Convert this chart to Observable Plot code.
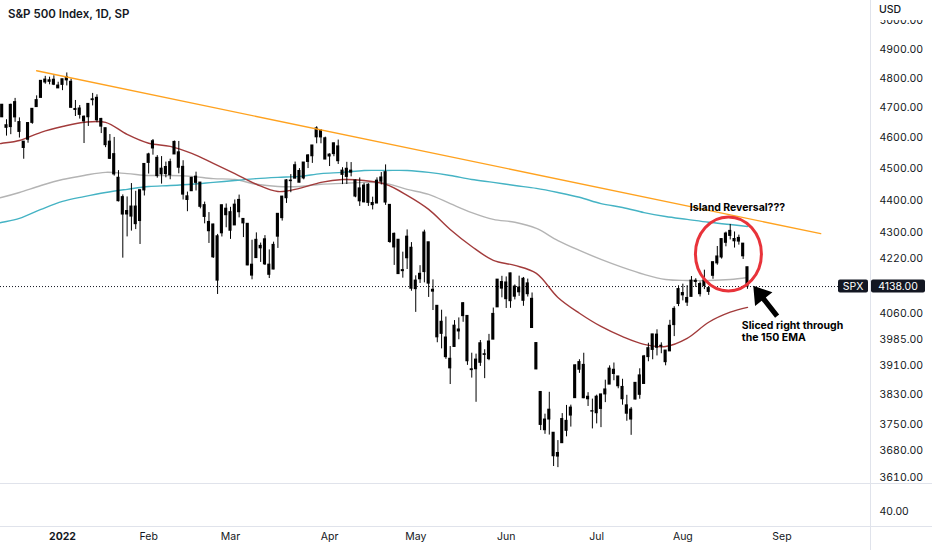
<!DOCTYPE html>
<html>
<head>
<meta charset="utf-8">
<script src="https://cdn.jsdelivr.net/npm/d3@7"></script>
<script src="https://cdn.jsdelivr.net/npm/@observablehq/plot@0.6"></script>
<style>
  html, body { margin: 0; padding: 0; background: #fff; }
  #wrap { position: relative; width: 932px; height: 550px; overflow: hidden; font-family: Inter, Roboto, sans-serif; }
  #wrap svg { position: absolute; left: 0; top: 0; }
  #title { position: absolute; left: 8px; top: 9px; font-size: 11.5px; font-weight: 600; color: #131722; z-index: 2; line-height: 1; white-space: nowrap; }
  #usd { position: absolute; left: 871px; top: 0; width: 61px; height: 20px; background: #fff; z-index: 2; }
  #usd span { position: absolute; left: 8px; top: 5px; font-size: 10.5px; font-weight: 500; color: #131722; line-height: 1; }
</style>
</head>
<body>
<div id="wrap">
  <div id="title">S&amp;P 500 Index, 1D, SP</div>
  <div id="usd"><span>USD</span></div>
</div>
<script>
// ---------------- data ----------------
const dates = [
"2021-12-10","2021-12-13","2021-12-14","2021-12-15","2021-12-16","2021-12-17","2021-12-20","2021-12-21","2021-12-22","2021-12-23","2021-12-27","2021-12-28","2021-12-29","2021-12-30","2021-12-31",
"2022-01-03","2022-01-04","2022-01-05","2022-01-06","2022-01-07","2022-01-10","2022-01-11","2022-01-12","2022-01-13","2022-01-14","2022-01-18","2022-01-19","2022-01-20","2022-01-21","2022-01-24","2022-01-25","2022-01-26","2022-01-27","2022-01-28","2022-01-31",
"2022-02-01","2022-02-02","2022-02-03","2022-02-04","2022-02-07","2022-02-08","2022-02-09","2022-02-10","2022-02-11","2022-02-14","2022-02-15","2022-02-16","2022-02-17","2022-02-18","2022-02-22","2022-02-23","2022-02-24","2022-02-25","2022-02-28",
"2022-03-01","2022-03-02","2022-03-03","2022-03-04","2022-03-07","2022-03-08","2022-03-09","2022-03-10","2022-03-11","2022-03-14","2022-03-15","2022-03-16","2022-03-17","2022-03-18","2022-03-21","2022-03-22","2022-03-23","2022-03-24","2022-03-25","2022-03-28","2022-03-29","2022-03-30","2022-03-31",
"2022-04-01","2022-04-04","2022-04-05","2022-04-06","2022-04-07","2022-04-08","2022-04-11","2022-04-12","2022-04-13","2022-04-14","2022-04-18","2022-04-19","2022-04-20","2022-04-21","2022-04-22","2022-04-25","2022-04-26","2022-04-27","2022-04-28","2022-04-29",
"2022-05-02","2022-05-03","2022-05-04","2022-05-05","2022-05-06","2022-05-09","2022-05-10","2022-05-11","2022-05-12","2022-05-13","2022-05-16","2022-05-17","2022-05-18","2022-05-19","2022-05-20","2022-05-23","2022-05-24","2022-05-25","2022-05-26","2022-05-27","2022-05-31",
"2022-06-01","2022-06-02","2022-06-03","2022-06-06","2022-06-07","2022-06-08","2022-06-09","2022-06-10","2022-06-13","2022-06-14","2022-06-15","2022-06-16","2022-06-17","2022-06-21","2022-06-22","2022-06-23","2022-06-24","2022-06-27","2022-06-28","2022-06-29","2022-06-30",
"2022-07-01","2022-07-05","2022-07-06","2022-07-07","2022-07-08","2022-07-11","2022-07-12","2022-07-13","2022-07-14","2022-07-15","2022-07-18","2022-07-19","2022-07-20","2022-07-21","2022-07-22","2022-07-25","2022-07-26","2022-07-27","2022-07-28","2022-07-29",
"2022-08-01","2022-08-02","2022-08-03","2022-08-04","2022-08-05","2022-08-08","2022-08-09","2022-08-10","2022-08-11","2022-08-12","2022-08-15","2022-08-16","2022-08-17","2022-08-18","2022-08-19","2022-08-22"
];
const opens = [
4687.6,4710.3,4642.0,4636.5,4719.1,4652.5,4587.9,4594.9,4650.4,4703.1,4734.0,4795.5,4788.6,4795.0,4775.2,
4778.1,4804.5,4788.0,4693.4,4697.7,4655.3,4669.1,4728.6,4733.6,4638.0,4632.2,4588.0,4547.4,4471.4,4356.3,4366.6,4380.6,4380.6,4336.2,4431.8,
4519.6,4566.4,4535.4,4482.8,4505.8,4480.0,4547.0,4553.2,4506.3,4412.6,4429.3,4455.8,4456.1,4385.0,4332.7,4324.9,4155.8,4298.4,4354.2,
4363.1,4322.6,4401.3,4342.1,4327.0,4202.7,4223.1,4252.6,4279.5,4202.8,4188.8,4288.1,4345.1,4407.3,4462.4,4469.1,4493.1,4470.0,4522.7,4541.1,4602.9,4624.2,4599.0,
4540.3,4548.0,4572.5,4494.2,4474.7,4494.2,4462.6,4437.6,4394.3,4449.1,4385.6,4390.6,4472.3,4489.2,4385.8,4255.3,4278.1,4186.5,4222.6,4253.8,
4130.6,4159.8,4181.2,4270.4,4128.2,4081.3,4035.2,3990.1,3903.9,3963.9,4013.0,4052.0,4052.0,3899.0,3927.8,3919.4,3942.9,3929.6,3984.6,4077.4,4151.1,
4149.8,4095.4,4137.6,4134.7,4096.5,4147.1,4101.7,3974.4,3838.2,3763.5,3764.1,3728.2,3665.9,3701.1,3733.9,3774.7,3821.8,3920.8,3913.0,3825.1,3786.0,
3781.0,3792.6,3832.0,3858.9,3888.3,3880.9,3852.0,3779.7,3764.0,3818.0,3883.8,3860.7,3935.3,3955.5,3998.4,3965.7,3953.2,3951.4,4026.1,4087.3,
4112.4,4104.2,4108.0,4154.9,4115.9,4155.9,4133.1,4170.1,4227.4,4225.0,4269.4,4290.5,4280.4,4273.1,4266.3,4195.1
];
const highs = [
4713.6,4710.3,4660.5,4712.6,4732.0,4666.7,4587.9,4651.1,4697.7,4740.7,4791.5,4807.0,4804.1,4808.9,4786.8,
4796.6,4818.6,4797.7,4725.0,4707.9,4673.0,4714.1,4748.8,4744.1,4665.1,4632.2,4611.6,4602.1,4494.5,4417.4,4411.0,4453.2,4428.7,4432.7,4516.9,
4550.5,4595.3,4542.9,4539.7,4521.9,4531.3,4590.0,4588.9,4526.3,4426.2,4472.8,4489.6,4456.1,4394.8,4362.1,4326.0,4294.7,4385.3,4388.8,
4378.5,4401.5,4416.8,4342.1,4327.0,4276.9,4299.4,4268.3,4291.0,4247.6,4271.1,4358.0,4412.7,4465.4,4481.8,4522.0,4501.1,4520.6,4546.0,4575.7,4637.3,4627.8,4603.1,
4548.7,4583.5,4593.5,4503.9,4521.2,4520.4,4464.4,4471.0,4453.9,4452.8,4410.3,4471.4,4488.3,4512.9,4385.8,4299.0,4278.1,4240.7,4308.5,4269.7,
4169.8,4200.1,4307.7,4270.4,4157.7,4081.3,4068.8,4049.1,3964.8,4038.9,4046.5,4090.7,4052.0,3946.0,3943.4,3981.9,3955.7,3999.3,4075.1,4158.5,4168.3,
4166.5,4177.5,4142.7,4168.8,4164.9,4160.1,4119.1,3974.4,3838.2,3778.2,3837.6,3728.2,3707.7,3779.7,3801.8,3802.6,3913.7,3927.7,3945.9,3836.5,3819.0,
3829.8,3832.2,3870.9,3910.6,3918.5,3880.9,3873.4,3829.4,3796.4,3863.6,3902.4,3939.8,3974.1,3999.3,4012.4,3975.3,3953.2,4039.6,4078.9,4140.2,
4145.0,4140.5,4167.7,4161.3,4151.6,4186.6,4138.0,4211.0,4257.9,4280.5,4301.8,4325.3,4302.2,4292.5,4266.3,4195.1
];
const lows = [
4670.2,4667.6,4606.5,4611.2,4651.9,4600.2,4531.1,4583.2,4645.5,4703.1,4734.0,4780.0,4778.1,4775.3,4765.8,
4758.2,4774.3,4699.4,4671.3,4662.7,4582.2,4638.3,4706.7,4650.3,4614.8,4568.7,4530.2,4477.0,4395.3,4222.6,4287.1,4304.8,4309.5,4264.0,4414.0,
4483.5,4544.3,4470.4,4451.5,4471.5,4465.4,4547.0,4484.3,4401.4,4364.8,4429.3,4429.7,4373.8,4327.2,4267.1,4221.6,4114.7,4286.8,4315.1,
4279.5,4322.6,4345.6,4285.0,4199.9,4157.9,4223.1,4209.8,4200.5,4161.7,4187.9,4252.0,4335.7,4390.6,4424.3,4469.1,4455.8,4465.2,4501.1,4517.7,4581.3,4581.3,4530.4,
4507.6,4539.2,4514.2,4450.0,4450.3,4474.6,4408.4,4381.3,4392.7,4381.3,4370.3,4390.6,4448.8,4384.5,4267.6,4200.8,4175.0,4162.9,4188.6,4124.3,
4062.5,4147.1,4148.9,4106.0,4067.9,3975.5,3958.2,3928.8,3858.9,3963.9,3984.0,4033.9,3911.9,3876.6,3810.3,3909.0,3875.1,3925.0,3984.6,4077.4,4104.9,
4073.9,4074.4,4098.7,4109.2,4080.2,4107.2,4017.2,3900.2,3734.3,3724.3,3722.3,3639.8,3636.9,3701.1,3717.7,3743.5,3821.8,3889.7,3820.1,3799.0,3738.7,
3752.1,3742.1,3809.4,3858.9,3869.3,3847.2,3802.4,3759.1,3721.6,3817.2,3818.6,3860.7,3922.0,3927.6,3938.3,3944.5,3910.7,3951.4,3993.0,4079.2,
4096.0,4079.8,4108.0,4135.4,4107.3,4129.0,4112.1,4159.6,4201.4,4219.8,4256.9,4277.8,4253.1,4262.0,4218.7,4129.9
];
const closes = [
4712.0,4669.0,4634.1,4709.9,4668.7,4620.6,4568.0,4649.2,4696.6,4725.8,4791.2,4786.4,4793.1,4778.7,4766.2,
4796.6,4793.5,4700.6,4696.1,4677.0,4670.3,4713.1,4726.4,4659.0,4662.9,4577.1,4532.8,4482.7,4397.9,4410.1,4356.5,4349.9,4326.5,4431.9,4515.6,
4546.5,4589.4,4477.4,4500.5,4483.9,4521.5,4587.2,4504.1,4418.6,4401.7,4471.1,4475.0,4380.3,4348.9,4304.8,4225.5,4288.7,4384.7,4373.9,
4306.3,4386.5,4363.5,4328.9,4201.1,4170.7,4277.9,4259.5,4204.3,4173.1,4262.5,4357.9,4411.7,4463.1,4461.2,4511.6,4456.2,4520.2,4543.1,4575.5,4631.6,4602.5,4530.4,
4545.9,4582.6,4525.1,4481.2,4500.2,4488.3,4412.5,4397.5,4446.6,4392.6,4391.7,4462.2,4459.5,4393.7,4271.8,4296.1,4175.2,4184.0,4287.5,4131.9,
4155.4,4175.5,4300.2,4146.9,4123.3,3991.2,4001.1,3935.2,3930.1,4023.9,4008.0,4088.9,3923.7,3900.8,3901.4,3973.8,3941.5,3978.7,4057.8,4158.2,4132.2,
4101.2,4176.8,4108.5,4121.4,4160.7,4115.8,4017.8,3900.9,3749.6,3735.5,3790.0,3666.8,3674.8,3764.8,3759.9,3795.7,3911.7,3900.1,3821.6,3818.8,3785.4,
3825.3,3831.4,3845.1,3902.6,3899.4,3854.4,3818.8,3801.8,3790.4,3863.2,3830.9,3936.7,3959.9,3999.0,3961.6,3966.8,3921.1,4023.6,4072.4,4130.3,
4118.6,4091.2,4155.2,4151.9,4145.2,4140.1,4122.5,4210.2,4207.3,4280.2,4297.1,4305.2,4274.0,4283.7,4228.5,4138.0
];

const maDates = ["2021-12-10","2021-12-13","2021-12-17","2021-12-27","2022-01-03","2022-01-10","2022-01-18","2022-01-25","2022-02-01","2022-02-08","2022-02-15","2022-02-23","2022-03-02","2022-03-09","2022-03-16","2022-03-23","2022-03-30","2022-04-06","2022-04-13","2022-04-21","2022-04-28","2022-05-05","2022-05-12","2022-05-19","2022-05-26","2022-06-03","2022-06-10","2022-06-17","2022-06-27","2022-07-05","2022-07-12","2022-07-19","2022-07-26","2022-08-02","2022-08-09","2022-08-16","2022-08-22"];
const ema50 = [4581,4583,4592,4619,4638,4652,4652,4612,4583,4573,4550,4518,4485,4451,4428,4438,4457,4466,4463,4451,4416,4372,4310,4258,4216,4201,4177,4106,4060,4022,3993,3971,3965,3988,4034,4063,4077];
const ema150 = [4407,4410,4425,4447,4466,4479,4489,4485,4479,4479,4476,4469,4466,4451,4444,4444,4451,4454,4457,4454,4435,4419,4390,4362,4341,4332,4313,4276,4246,4219,4195,4174,4159,4156,4156,4159,4165];
const ma200 = [4329,4332,4344,4372,4397,4412,4425,4435,4444,4447,4451,4457,4463,4469,4473,4476,4485,4489,4495,4495,4495,4489,4479,4466,4457,4447,4438,4425,4410,4390,4378,4362,4350,4341,4332,4325,4319];

const trendDates = ["2021-12-23", "2022-09-15"];
const trendValues = [4826, 4297];

const tickDates = ["2022-01-03","2022-02-01","2022-03-01","2022-04-01","2022-05-02","2022-06-01","2022-07-01","2022-08-01","2022-09-01"];
const tickLabels = ["2022","Feb","Mar","Apr","May","Jun","Jul","Aug","Sep"];
const yTicks = [5000,4900,4800,4700,4600,4500,4400,4300,4220,4060,3985,3910,3830,3750,3680,3610];
const lowerPaneTicks = ["40.00"];
const symbol = "SPX";
const lastPrice = closes[closes.length - 1];

const notes = [
  {text: "Island Reversal???", date: "2022-08-17", price: 4378, anchor: "middle"},
  {text: "Sliced right through", date: "2022-08-18", price: 4023, anchor: "start"},
  {text: "the 150 EMA", date: "2022-08-18", price: 3989, anchor: "start"}
];
const circleNote = {date: "2022-08-15", price: 4234};
const arrowNote = {fromDate: "2022-08-31", fromPrice: 4050, toDate: "2022-08-23", toPrice: 4139};

// ---------------- trading-day index ----------------
const holidays = new Set(["2021-12-24","2022-01-17","2022-02-21","2022-04-15","2022-05-30","2022-06-20","2022-07-04","2022-09-05"]);
const DAY = 86400000;
function isTradingDay(t) {
  const d = new Date(t), w = d.getUTCDay();
  if (w === 0 || w === 6) return false;
  return !holidays.has(d.toISOString().slice(0, 10));
}
function tradingIndex(s) {
  const base = Date.UTC(2022, 0, 3);
  const t = Date.parse(s + "T00:00:00Z");
  let n = 0;
  if (t >= base) { for (let d = base; d < t; d += DAY) if (isTradingDay(d)) n++; }
  else { for (let d = t; d < base; d += DAY) if (isTradingDay(d)) n--; }
  return n;
}

const candles = dates.map((d, k) => ({i: tradingIndex(d), o: opens[k], h: highs[k], l: lows[k], c: closes[k]}));
const maIdx = maDates.map(tradingIndex);
const mk = (arr) => arr.map((v, k) => ({i: maIdx[k], v}));
const trend = trendDates.map((d, k) => ({i: tradingIndex(d), v: trendValues[k]}));
const ticks = tickDates.map((d, k) => ({i: tradingIndex(d), label: tickLabels[k]}));

// ---------------- helpers ----------------
const NS = "http://www.w3.org/2000/svg";
function el(tag, attrs, text) {
  const e = document.createElementNS(NS, tag);
  for (const k in attrs) e.setAttribute(k, attrs[k]);
  if (text != null) e.textContent = text;
  return e;
}
const FONT = "Inter, Roboto, sans-serif";
const INK = "#131722";

function panes(index, scales, values, dims) {
  const g = el("g", {});
  const W = dims.width, H = dims.height;
  const fx = W - dims.marginRight, fy = H - dims.marginBottom;
  g.append(el("line", {x1: 0, x2: W, y1: fy + 0.5, y2: fy + 0.5, stroke: "#e0e3eb"}));
  g.append(el("line", {x1: 0, x2: W, y1: fy + 43.5, y2: fy + 43.5, stroke: "#e0e3eb"}));
  g.append(el("line", {x1: fx + 0.5, x2: fx + 0.5, y1: 0, y2: H, stroke: "#e0e3eb"}));
  return g;
}

function drawings(index, {x, y}) {
  const g = el("g", {});
  // hand-drawn circle
  const cx = x(tradingIndex(circleNote.date)) + 3, cy = y(circleNote.price);
  g.append(el("ellipse", {cx, cy, rx: 33, ry: 37, fill: "none", stroke: "#e8333a", "stroke-width": 3}));
  // arrow
  const tx = x(tradingIndex(arrowNote.toDate)) + 2, ty = y(arrowNote.toPrice);
  const sx = x(tradingIndex(arrowNote.fromDate)), sy = y(arrowNote.fromPrice);
  const len = Math.hypot(tx - sx, ty - sy);
  const ux = (tx - sx) / len, uy = (ty - sy) / len, nx = -uy, ny = ux;
  const bx = tx - ux * 17, by = ty - uy * 17;
  const pts = [
    [tx, ty], [bx + nx * 11, by + ny * 11], [bx + nx * 2.6, by + ny * 2.6],
    [sx + nx * 2.6, sy + ny * 2.6], [sx - nx * 2.6, sy - ny * 2.6],
    [bx - nx * 2.6, by - ny * 2.6], [bx - nx * 11, by - ny * 11]
  ];
  g.append(el("polygon", {points: pts.map(p => p.join(",")).join(" "), fill: "#000"}));
  return g;
}

function priceLabels(index, {y}, values, dims) {
  const g = el("g", {});
  const fx = dims.width - dims.marginRight;
  const py = y(lastPrice);
  g.append(el("rect", {x: fx - 32, y: py - 6.5, width: 30, height: 13, rx: 2, fill: INK}));
  g.append(el("text", {x: fx - 17, y: py, "text-anchor": "middle", "dominant-baseline": "central", fill: "#fff", "font-size": 10.5, "font-family": FONT}, symbol));
  g.append(el("rect", {x: fx + 1, y: py - 6.5, width: 54, height: 13, rx: 2, fill: INK}));
  g.append(el("text", {x: fx + 28, y: py, "text-anchor": "middle", "dominant-baseline": "central", fill: "#fff", "font-size": 10.5, "font-family": FONT}, lastPrice.toFixed(2)));
  return g;
}

// ---------------- chart ----------------
const chart = Plot.plot({
  width: 932,
  height: 550,
  marginLeft: 0,
  marginRight: 62,
  marginTop: 0,
  marginBottom: 67,
  style: {background: "#fff", fontFamily: FONT, overflow: "visible"},
  x: {type: "linear", domain: [-14.39, 187.56], axis: null},
  y: {type: "log", domain: [3596, 5074], axis: null},
  marks: [
    panes,
    Plot.ruleY([lastPrice], {stroke: INK, strokeWidth: 1, strokeDasharray: "1,2"}),
    Plot.line(mk(ema150), {x: "i", y: "v", stroke: "#b4b4b4", strokeWidth: 1.4, curve: "catmull-rom", clip: true}),
    Plot.line(mk(ma200), {x: "i", y: "v", stroke: "#45b3c4", strokeWidth: 1.4, curve: "catmull-rom", clip: true}),
    Plot.line(mk(ema50), {x: "i", y: "v", stroke: "#a23b3b", strokeWidth: 1.4, curve: "catmull-rom", clip: true}),
    Plot.ruleX(candles, {x: "i", y1: "l", y2: "h", stroke: "#000", strokeWidth: 1, clip: true}),
    Plot.rect(candles, {
      x1: d => d.i - 0.36, x2: d => d.i + 0.36,
      y1: d => Math.min(d.o, d.c), y2: d => Math.max(d.o, d.c),
      fill: "#000", insetTop: -0.6, insetBottom: -0.6, clip: true
    }),
    Plot.line(trend, {x: "i", y: "v", stroke: "#ffa21f", strokeWidth: 1.4}),
    drawings,
    Plot.text(notes.filter(n => n.anchor === "middle"), {
      x: d => tradingIndex(d.date), y: "price", text: "text", dx: 3,
      textAnchor: "middle", fontSize: 10.5, fontWeight: "bold", fontFamily: FONT, fill: "#000"
    }),
    Plot.text(notes.filter(n => n.anchor === "start"), {
      x: d => tradingIndex(d.date), y: "price", text: "text", dx: 3,
      textAnchor: "start", fontSize: 10.5, fontWeight: "bold", fontFamily: FONT, fill: "#000"
    }),
    Plot.axisY(yTicks, {
      anchor: "right", tickSize: 0, tickPadding: 9, label: null,
      tickFormat: d => d.toFixed(2), textAnchor: "start",
      fontSize: 10.5, fontFamily: FONT, fill: INK
    }),
    Plot.text(lowerPaneTicks, {
      frameAnchor: "bottom-right", text: d => d, dx: 9, dy: 31,
      textAnchor: "start", fontSize: 10.5, fontFamily: FONT, fill: INK
    }),
    Plot.text(ticks.filter(t => /^\d+$/.test(t.label)), {
      x: "i", frameAnchor: "bottom", dy: 56, text: "label",
      fontSize: 10.5, fontWeight: "bold", fontFamily: FONT, fill: INK
    }),
    Plot.text(ticks.filter(t => !/^\d+$/.test(t.label)), {
      x: "i", frameAnchor: "bottom", dy: 56, text: "label",
      fontSize: 10.5, fontFamily: FONT, fill: INK
    }),
    priceLabels
  ]
});
document.getElementById("wrap").prepend(chart);
</script>
</body>
</html>
